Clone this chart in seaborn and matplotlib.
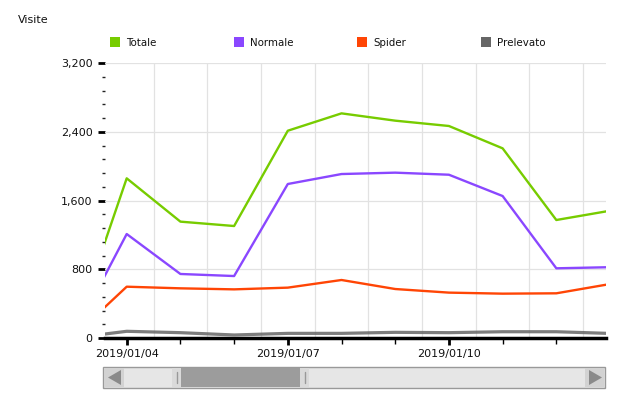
import numpy as np
import pandas as pd
import matplotlib
matplotlib.use("Agg")
import matplotlib.pyplot as plt
import matplotlib.dates as mdates
import matplotlib.ticker as mticker
from matplotlib.patches import Rectangle, Polygon
import seaborn as sns

# ---- data ----
dates = pd.date_range("2019-01-03", "2019-01-13", freq="D")
totale    = [30, 1858, 1354, 1303, 2412, 2614, 2529, 2467, 2207, 1373, 1481]
normale   = [20, 1210, 745, 721, 1792, 1908, 1924, 1900, 1652, 811, 824]
spider    = [12, 597, 578, 566, 586, 675, 570, 528, 516, 520, 628]
prelevato = [0, 78, 62, 35, 54, 54, 66, 62, 73, 73, 53]
series_names = ["Totale", "Normale", "Spider", "Prelevato"]
colors = {"Totale": "#77CC00", "Normale": "#8A47FF", "Spider": "#FF4505", "Prelevato": "#666666"}
y_ticks = [0, 800, 1600, 2400, 3200]
x_labels_dates = ["2019-01-04", "2019-01-07", "2019-01-10"]

df = pd.DataFrame({"Data": dates, "Totale": totale, "Normale": normale,
                   "Spider": spider, "Prelevato": prelevato})
long = df.melt(id_vars="Data", var_name="Serie", value_name="Visite")

sns.set_theme(style="white")
plt.rcParams["font.family"] = ["DejaVu Sans"]

W, H = 628, 398
fig = plt.figure(figsize=(W / 100, H / 100), dpi=100)
L, R, T, B = 105, 606, 63, 338
ax = fig.add_axes([L / W, (H - B) / H, (R - L) / W, (B - T) / H])

for name in series_names:
    sub = long[long["Serie"] == name]
    sns.lineplot(data=sub, x="Data", y="Visite", ax=ax, color=colors[name],
                 lw=2.3 if name == "Prelevato" else 1.7,
                 alpha=0.85 if name == "Prelevato" else 1.0,
                 legend=False, zorder=3)

d0 = pd.Timestamp("2019-01-04")
ax.set_xlim(d0 - pd.Timedelta(hours=9.7), d0 + pd.Timedelta(hours=8 * 24 + 22.2))
ax.set_ylim(0, 3200)

# y axis
ax.yaxis.set_major_locator(mticker.FixedLocator(y_ticks))
ax.yaxis.set_minor_locator(mticker.MultipleLocator(160))
ax.yaxis.set_major_formatter(mticker.FuncFormatter(lambda v, p: f"{int(v):,}"))
ax.tick_params(axis="y", which="major", length=5, width=2, color="black",
               labelsize=8, pad=4, left=True, labelcolor="#111111")
ax.tick_params(axis="y", which="minor", length=2, width=1, color="#222222", left=True)

# x axis
ax.xaxis.set_major_locator(mticker.FixedLocator(mdates.date2num(pd.to_datetime(x_labels_dates))))
ax.xaxis.set_major_formatter(mdates.DateFormatter("%Y/%m/%d"))
ax.xaxis.set_minor_locator(mdates.DayLocator())
ax.tick_params(axis="x", which="major", length=5, width=2, color="black",
               labelsize=8, pad=3, bottom=True, labelcolor="#111111")
ax.tick_params(axis="x", which="minor", length=4, width=1, color="black", bottom=True)

# grid
for v in y_ticks[1:]:
    ax.axhline(v, color="#E2E2E2", lw=0.9, zorder=1)
for i in range(len(dates) - 1):
    mid = dates[i] + (dates[i + 1] - dates[i]) / 2
    ax.axvline(mid, color="#E2E2E2", lw=0.9, zorder=1)

for s in ["top", "right", "left"]:
    ax.spines[s].set_visible(False)
ax.spines["bottom"].set_linewidth(2.5)
ax.spines["bottom"].set_color("black")
ax.set_xlabel("")
ax.set_ylabel("")

# overlay axes in pixel coordinates
ov = fig.add_axes([0, 0, 1, 1], zorder=-1)
ov.set_xlim(0, W)
ov.set_ylim(H, 0)
ov.axis("off")
ov.patch.set_alpha(0)

fig.text(18 / W, 1 - 20 / H, "Visite", fontsize=8, va="center", ha="left", color="#111111")

leg_x = [110, 234, 357, 481]
for x, name in zip(leg_x, series_names):
    ov.add_patch(Rectangle((x, 37), 9.5, 10, color=colors[name], lw=0))
    ov.text(x + 16, 42.5, name, fontsize=7.4, va="center", ha="left", color="#111111")

# scrollbar
ov2 = fig.add_axes([0, 0, 1, 1], zorder=5)
ov2.set_xlim(0, W)
ov2.set_ylim(H, 0)
ov2.axis("off")
ov2.patch.set_alpha(0)
ov2.add_patch(Rectangle((103, 367), 502, 21, facecolor="#E6E6E6", edgecolor="#999999", lw=1))
ov2.add_patch(Rectangle((104, 368), 20, 19, facecolor="#D2D2D2", lw=0))
ov2.add_patch(Polygon([(108, 377.5), (121, 370), (121, 385)], closed=True, color="#8A8A8A", lw=0))
ov2.add_patch(Rectangle((585, 368), 19, 19, facecolor="#D2D2D2", lw=0))
ov2.add_patch(Polygon([(602, 377.5), (589, 370), (589, 385)], closed=True, color="#8A8A8A", lw=0))
ov2.add_patch(Rectangle((172, 368), 9, 19, facecolor="#DADADA", lw=0))
ov2.add_patch(Rectangle((300, 368), 9, 19, facecolor="#DADADA", lw=0))
ov2.add_patch(Rectangle((181, 368), 119, 19, facecolor="#9C9C9C", lw=0))
ov2.plot([176.5, 176.5], [372, 383], color="#999999", lw=1)
ov2.plot([304.5, 304.5], [372, 383], color="#999999", lw=1)

fig.savefig("out.png", dpi=100, facecolor="white")
